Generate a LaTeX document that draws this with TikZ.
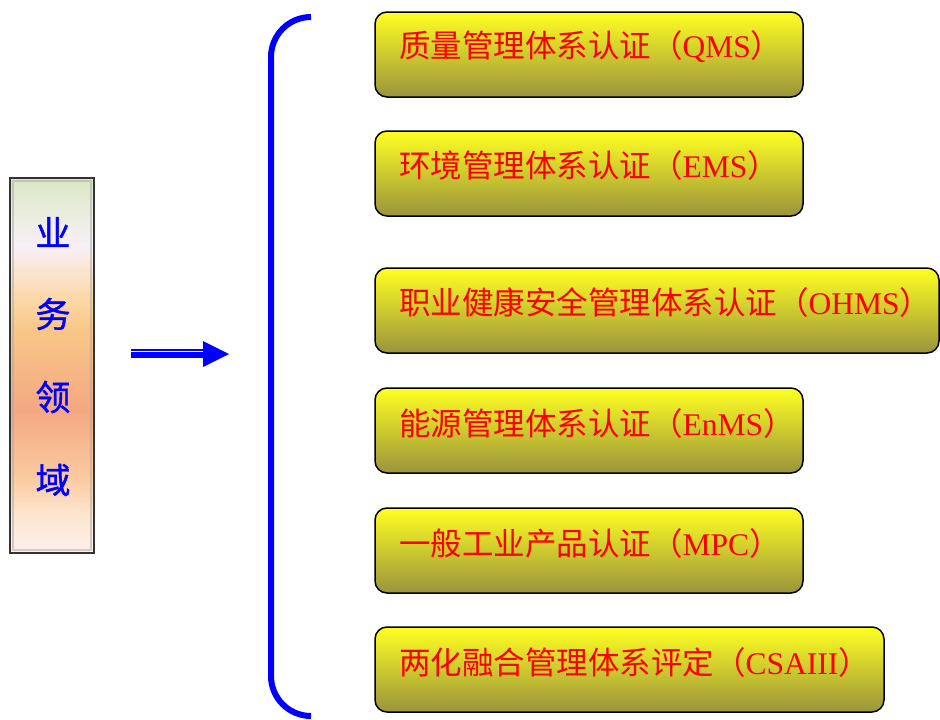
\documentclass[tikz,border=0pt]{standalone}
\usepackage{fontspec}
\setmainfont{Liberation Serif}
\newfontfamily\cjk{Noto Sans CJK SC}
\newfontfamily\cjkb[FakeBold=1.2]{Noto Sans CJK SC}
\definecolor{sA}{RGB}{217,232,196}
\definecolor{sB}{RGB}{248,240,248}
\definecolor{sC}{RGB}{252,216,168}
\definecolor{sD}{RGB}{248,200,136}
\definecolor{sE}{RGB}{244,168,130}
\definecolor{sF}{RGB}{251,202,160}
\definecolor{sG}{RGB}{253,230,208}
\definecolor{sH}{RGB}{253,240,236}
\definecolor{byel}{RGB}{255,255,34}
\definecolor{bmid}{RGB}{232,226,38}
\definecolor{bbot}{RGB}{154,148,60}
\definecolor{txtred}{RGB}{255,0,0}
\pgfdeclareverticalshading{sidegrad}{100bp}{color(0bp)=(sH); color(25bp)=(sH); color(30bp)=(sG); color(35bp)=(sF); color(44bp)=(sE); color(55bp)=(sD); color(59bp)=(sC); color(66bp)=(sB); color(75bp)=(sA); color(100bp)=(sA)}
\begin{document}
\begin{tikzpicture}[x=1pt,y=-1pt,
  ybox/.style={rectangle, rounded corners=12pt, draw=black, line width=1.5pt,
    top color=byel, middle color=bmid, bottom color=bbot, minimum height=85pt, inner sep=0pt},
  lbl/.style={anchor=west, inner sep=0pt, text=txtred, font=\fontsize{31.5}{31.5}\selectfont},
  side/.style={rectangle, draw=black!80, line width=1.5pt, shading=sidegrad, minimum width=84pt, minimum height=375pt, inner sep=0pt},
  bevel/.style={draw=black!35, line width=2pt, opacity=0.5, minimum width=78pt, minimum height=369pt, inner sep=0pt},
  sidech/.style={inner sep=0pt, text=blue, font=\cjkb\fontsize{35}{35}\selectfont},
  brace/.style={draw=blue, line width=6pt, rounded corners=40pt}
]
\useasboundingbox (0,0) rectangle (940,720);
% left box
\node[side] (side) at (52,365.5) {};
\node[bevel] (sidein) at (side.center) {};
\node[sidech] (c1) at (53,232) {业};
\node[sidech] (c2) at (53,314) {务};
\node[sidech] (c3) at (53,397) {领};
\node[sidech] (c4) at (53,480) {域};
% arrow
\coordinate (a1) at (131,350.2);
\coordinate (a1e) at (205,350.2);
\coordinate (a2) at (131,355);
\coordinate (a2e) at (205,355);
\coordinate (ah1) at (203,341);
\coordinate (aht) at (229,354);
\coordinate (ah2) at (203,367);
\draw[blue, line width=1.7pt] (a1) -- (a1e);
\draw[blue, line width=5.3pt] (a2) -- (a2e);
\fill[blue] (ah1) -- (aht) -- (ah2) -- cycle;
% brace
\coordinate (bt) at (311,17);
\coordinate (btc) at (271,17);
\coordinate (bbc) at (271,716);
\coordinate (bb) at (311,716);
\draw[brace] (bt) -- (btc) -- (bbc) -- (bb);
% boxes
\node[ybox, minimum width=428pt] (b1) at (589,54.5) {};
\node[ybox, minimum width=428pt] (b2) at (589,173.5) {};
\node[ybox, minimum width=564pt] (b3) at (657,310.5) {};
\node[ybox, minimum width=428pt] (b4) at (589,430.5) {};
\node[ybox, minimum width=428pt] (b5) at (589,550.5) {};
\node[ybox, minimum width=509pt] (b6) at (629.5,669.5) {};
\node[lbl] (t1) at (399,46.5) {{\cjk 质量管理体系认证（}QMS{\cjk ）}};
\node[lbl] (t2) at (399,165.5) {{\cjk 环境管理体系认证（}EMS{\cjk ）}};
\node[lbl] (t3) at (399,302.5) {{\cjk 职业健康安全管理体系认证（}OHMS{\cjk ）}};
\node[lbl] (t4) at (399,423.5) {{\cjk 能源管理体系认证（}EnMS{\cjk ）}};
\node[lbl] (t5) at (399,543.5) {{\cjk 一般工业产品认证（}MPC{\cjk ）}};
\node[lbl] (t6) at (399,662.5) {{\cjk 两化融合管理体系评定（}CSAIII{\cjk ）}};
\end{tikzpicture}
\end{document}
